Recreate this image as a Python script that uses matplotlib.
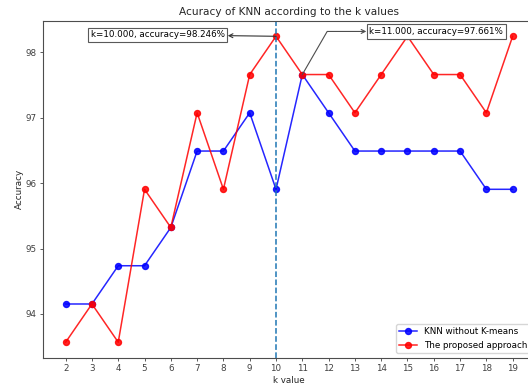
import matplotlib
matplotlib.use("Agg")
import matplotlib.pyplot as plt
import numpy as np

k_values = list(range(2, 20))
acc_knn = [94.152, 94.152, 94.737, 94.737, 95.322, 96.491, 96.491, 97.076, 95.906,
           97.661, 97.076, 96.491, 96.491, 96.491, 96.491, 96.491, 95.906, 95.906]
acc_proposed = [93.567, 94.152, 93.567, 95.906, 95.322, 97.076, 95.906, 97.661, 98.246,
                97.661, 97.661, 97.076, 97.661, 98.246, 97.661, 97.661, 97.076, 98.246]

fs = 6.3
fig = plt.figure(figsize=(5.28, 3.88), dpi=100)
ax = fig.add_axes([0.0820, 0.0785, 0.9313, 0.8674])

ax.plot(k_values, acc_knn, color='blue', marker='o', markersize=4.3, linewidth=1.1,
        alpha=0.85, label='KNN without K-means')
ax.plot(k_values, acc_proposed, color='red', marker='o', markersize=4.3, linewidth=1.1,
        alpha=0.85, label='The proposed approach')
ax.axvline(10, color='C0', linestyle='--', linewidth=1.1)

ax.set_xticks(k_values)
ax.set_yticks([94, 95, 96, 97, 98])
ax.tick_params(labelsize=fs, colors='0.25', length=2.5, width=0.6, pad=2.5)
for s in ax.spines.values():
    s.set_color('0.3')
    s.set_linewidth(0.8)
ax.set_title('Acuracy of KNN according to the k values', fontsize=7.6, color='0.15', pad=4)
ax.set_xlabel('k value', fontsize=fs, labelpad=2, color='0.15')
ax.set_ylabel('Accuracy', fontsize=fs, color='0.15', labelpad=1)

bbox = dict(boxstyle='square,pad=0.3', fc='w', ec='0.35', lw=0.8)
i1 = int(np.argmax(acc_proposed))
ax.annotate('k={:.3f}, accuracy={:.3f}%'.format(k_values[i1], acc_proposed[i1]),
            xy=(k_values[i1], acc_proposed[i1]), xytext=(8.05, 98.27),
            textcoords='data', ha='right', va='center', fontsize=fs, bbox=bbox,
            arrowprops=dict(arrowstyle='<-', color='0.2', lw=0.8, shrinkA=0, shrinkB=0,
                            mutation_scale=7))
i2 = 9
ax.annotate('k={:.3f}, accuracy={:.3f}%'.format(k_values[i2], acc_proposed[i2]),
            xy=(k_values[i2], acc_proposed[i2]), xytext=(13.55, 98.32),
            textcoords='data', ha='left', va='center', fontsize=fs, bbox=bbox,
            arrowprops=dict(arrowstyle='<-', color='0.3', lw=0.8, shrinkA=0, shrinkB=0,
                            mutation_scale=7,
                            connectionstyle='angle,angleA=0,angleB=60'))

ax.legend(loc='lower right', fontsize=fs)
fig.savefig('out.png', dpi=100)
